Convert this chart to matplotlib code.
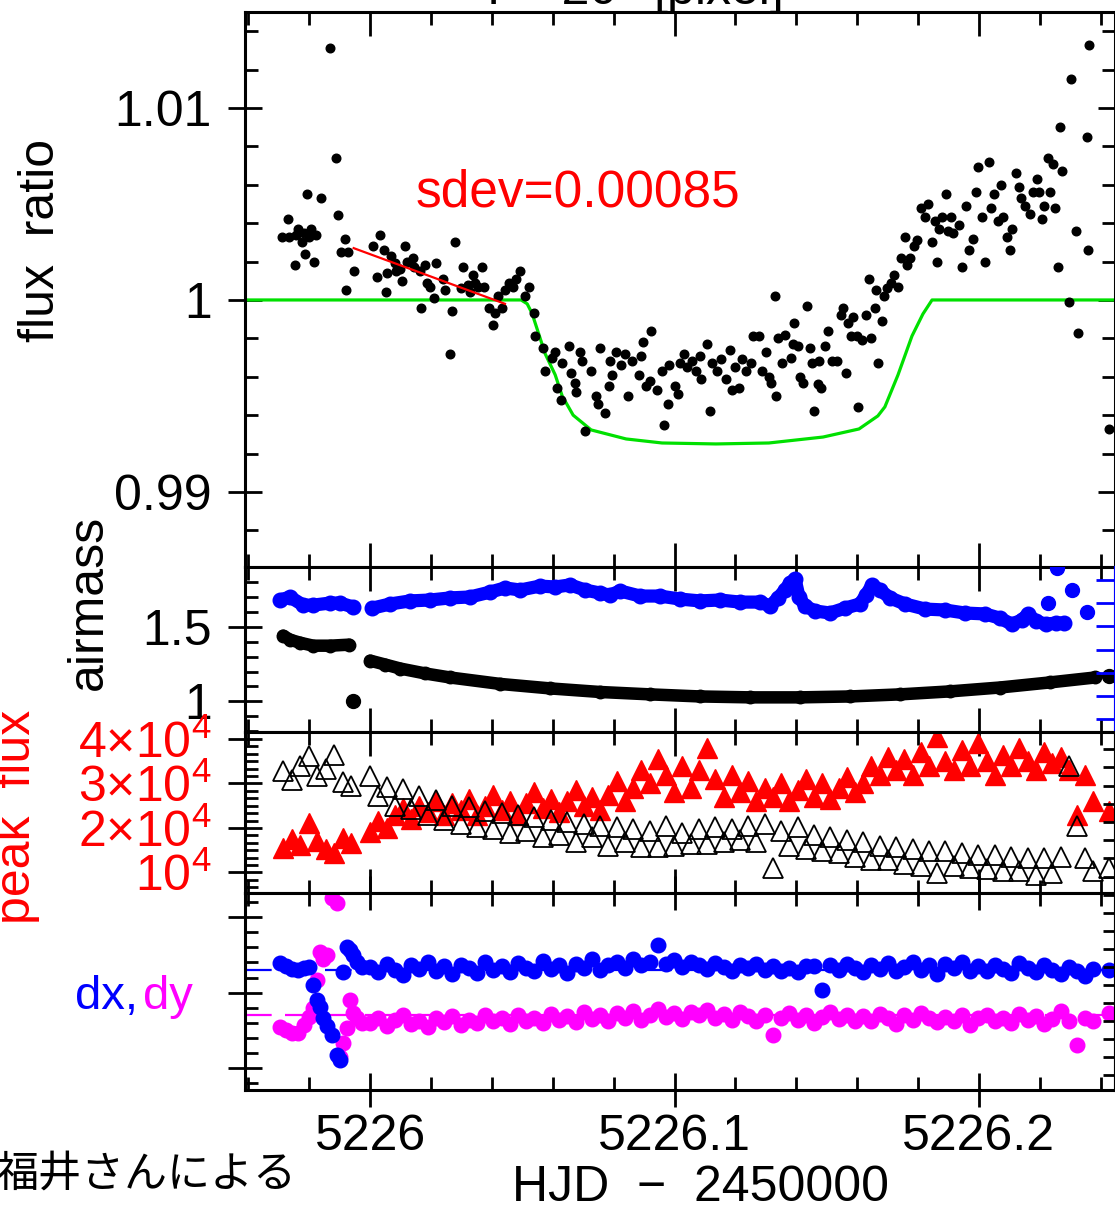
import matplotlib
matplotlib.use('Agg')
import matplotlib.pyplot as plt
from matplotlib.ticker import MultipleLocator, AutoMinorLocator, FuncFormatter, NullFormatter

plt.rcParams['font.family'] = ['Liberation Sans', 'DejaVu Sans']
plt.rcParams['mathtext.fontset'] = 'custom'
plt.rcParams['mathtext.rm'] = 'Liberation Sans'
plt.rcParams['mathtext.it'] = 'Liberation Sans:italic'
plt.rcParams['mathtext.bf'] = 'Liberation Sans:bold'

# ---------------- data ----------------
t_flux = [5225.9711, 5225.9729, 5225.9734, 5225.9754, 5225.9756, 5225.9764, 5225.9777, 5225.9783, 5225.9787, 5225.9793,
          5225.9800, 5225.9806, 5225.9816, 5225.9823, 5225.9839, 5225.9869, 5225.9888, 5225.9893, 5225.9905, 5225.9918,
          5225.9921, 5225.9928, 5225.9947, 5226.0010, 5226.0023, 5226.0033, 5226.0046, 5226.0053, 5226.0057, 5226.0069,
          5226.0082, 5226.0085, 5226.0099, 5226.0105, 5226.0115, 5226.0122, 5226.0140, 5226.0144, 5226.0164, 5226.0167,
          5226.0181, 5226.0187, 5226.0197, 5226.0210, 5226.0217, 5226.0240, 5226.0246, 5226.0263, 5226.0269, 5226.0279,
          5226.0299, 5226.0304, 5226.0322, 5226.0328, 5226.0338, 5226.0345, 5226.0356, 5226.0368, 5226.0374, 5226.0391,
          5226.0404, 5226.0411, 5226.0420, 5226.0433, 5226.0443, 5226.0456, 5226.0468, 5226.0479, 5226.0493, 5226.0509,
          5226.0521, 5226.0539, 5226.0541, 5226.0568, 5226.0575, 5226.0598, 5226.0608, 5226.0614, 5226.0628, 5226.0631,
          5226.0654, 5226.0660, 5226.0673, 5226.0677, 5226.0690, 5226.0696, 5226.0706, 5226.0726, 5226.0742, 5226.0749,
          5226.0755, 5226.0772, 5226.0785, 5226.0788, 5226.0795, 5226.0808, 5226.0824, 5226.0837, 5226.0847, 5226.0860,
          5226.0883, 5226.0890, 5226.0895, 5226.0906, 5226.0920, 5226.0923, 5226.0943, 5226.0959, 5226.0966, 5226.0977,
          5226.0982, 5226.1002, 5226.1011, 5226.1018, 5226.1031, 5226.1041, 5226.1059, 5226.1071, 5226.1084, 5226.1087,
          5226.1107, 5226.1117, 5226.1123, 5226.1140, 5226.1153, 5226.1169, 5226.1182, 5226.1189, 5226.1199, 5226.1212,
          5226.1223, 5226.1235, 5226.1251, 5226.1258, 5226.1278, 5226.1287, 5226.1300, 5226.1310, 5226.1317, 5226.1330,
          5226.1333, 5226.1340, 5226.1353, 5226.1363, 5226.1383, 5226.1388, 5226.1392, 5226.1406, 5226.1412, 5226.1422,
          5226.1435, 5226.1445, 5226.1452, 5226.1458, 5226.1470, 5226.1475, 5226.1481, 5226.1494, 5226.1504, 5226.1517,
          5226.1534, 5226.1547, 5226.1552, 5226.1563, 5226.1570, 5226.1580, 5226.1586, 5226.1599, 5226.1604, 5226.1616,
          5226.1629, 5226.1639, 5226.1645, 5226.1657, 5226.1662, 5226.1668, 5226.1681, 5226.1687, 5226.1698, 5226.1711,
          5226.1721, 5226.1734, 5226.1744, 5226.1757, 5226.1764, 5226.1773, 5226.1787, 5226.1798, 5226.1810, 5226.1823,
          5226.1833, 5226.1846, 5226.1856, 5226.1862, 5226.1869, 5226.1880, 5226.1892, 5226.1898, 5226.1908, 5226.1915,
          5226.1933, 5226.1944, 5226.1957, 5226.1967, 5226.1980, 5226.1990, 5226.1997, 5226.2010, 5226.2020, 5226.2033,
          5226.2039, 5226.2049, 5226.2062, 5226.2072, 5226.2079, 5226.2092, 5226.2102, 5226.2108, 5226.2122, 5226.2131,
          5226.2138, 5226.2151, 5226.2167, 5226.2177, 5226.2190, 5226.2197, 5226.2207, 5226.2213, 5226.2227, 5226.2233,
          5226.2243, 5226.2250, 5226.2261, 5226.2266, 5226.2273, 5226.2296, 5226.2302, 5226.2319, 5226.2325, 5226.2355,
          5226.2357, 5226.2361, 5226.2427]
flux = [1.0033, 1.0042, 1.0033, 1.0018, 1.0034, 1.0037, 1.0030, 1.0035, 1.0024, 1.0055,
        1.0033, 1.0037, 1.0020, 1.0034, 1.0053, 1.0131, 1.0074, 1.0044, 1.0025, 1.0032,
        1.0005, 1.0025, 1.0015, 1.0028, 1.0012, 1.0034, 1.0026, 1.0004, 1.0014, 1.0023,
        1.0019, 1.0015, 1.0016, 1.0010, 1.0028, 1.0020, 1.0022, 1.0017, 1.0015, 0.9996,
        1.0018, 1.0009, 1.0007, 1.0001, 1.0019, 1.0011, 1.0005, 0.9972, 0.9994, 1.0030,
        1.0006, 1.0017, 1.0008, 1.0004, 1.0013, 1.0009, 1.0007, 1.0017, 1.0007, 0.9996,
        0.9987, 0.9993, 1.0002, 0.9996, 1.0005, 1.0009, 1.0007, 1.0011, 1.0015, 1.0002,
        1.0007, 0.9993, 0.9981, 0.9975, 0.9963, 0.9970, 0.9973, 0.9954, 0.9948, 0.9967,
        0.9976, 0.9962, 0.9957, 0.9952, 0.9973, 0.9968, 0.9932, 0.9963, 0.9950, 0.9946,
        0.9975, 0.9941, 0.9955, 0.9968, 0.9961, 0.9973, 0.9966, 0.9972, 0.9950, 0.9968,
        0.9961, 0.9971, 0.9978, 0.9955, 0.9958, 0.9984, 0.9953, 0.9963, 0.9935, 0.9946,
        0.9966, 0.9955, 0.9951, 0.9967, 0.9972, 0.9965, 0.9968, 0.9963, 0.9971, 0.9959,
        0.9977, 0.9942, 0.9967, 0.9963, 0.9969, 0.9959, 0.9974, 0.9953, 0.9965, 0.9954,
        0.9969, 0.9963, 0.9967, 0.9981, 0.9981, 0.9963, 0.9973, 0.9960, 0.9957, 1.0002,
        0.9950, 0.9980, 0.9967, 0.9982, 0.9970, 0.9977, 0.9988, 0.9976, 0.9960, 0.9957,
        0.9997, 0.9975, 0.9967, 0.9942, 0.9956, 0.9968, 0.9954, 0.9976, 0.9984, 0.9968,
        0.9968, 0.9992, 0.9996, 0.9962, 0.9988, 0.9981, 0.9991, 0.9981, 0.9944, 0.9979,
        0.9992, 1.0011, 0.9980, 0.9996, 1.0005, 0.9967, 0.9989, 1.0002, 1.0006, 1.0009,
        1.0013, 1.0007, 1.0022, 1.0033, 1.0018, 1.0022, 1.0028, 1.0031, 1.0048, 1.0043,
        1.0050, 1.0030, 1.0041, 1.0020, 1.0037, 1.0043, 1.0055, 1.0036, 1.0043, 1.0035,
        1.0039, 1.0017, 1.0049, 1.0026, 1.0032, 1.0056, 1.0069, 1.0043, 1.0020, 1.0072,
        1.0048, 1.0055, 1.0041, 1.0060, 1.0043, 1.0033, 1.0026, 1.0037, 1.0066, 1.0059,
        1.0053, 1.0049, 1.0045, 1.0056, 1.0063, 1.0056, 1.0042, 1.0049, 1.0074, 1.0056,
        1.0071, 1.0048, 1.0017, 1.0090, 1.0067, 0.9999, 1.0115, 1.0036, 0.9983, 1.0085,
        1.0026, 1.0133, 0.9933]

t_model = [5225.9550, 5226.0496, 5226.0516, 5226.0532, 5226.0575, 5226.0608, 5226.0631, 5226.0667, 5226.0726,
           5226.0841, 5226.0959, 5226.1136, 5226.1310, 5226.1488, 5226.1606, 5226.1668, 5226.1691, 5226.1734,
           5226.1780, 5226.1816, 5226.1846, 5226.2500]
f_model = [1.0000, 1.0000, 0.9998, 0.9993, 0.9972, 0.9961, 0.9950, 0.9940, 0.99323,
           0.99276, 0.99255, 0.99250, 0.99255, 0.99286, 0.99328, 0.99396, 0.99443, 0.99609,
           0.99812, 0.99927, 1.0000, 1.0000]

t_fit = [5225.9946, 5226.0443]
f_fit = [1.0027, 0.9998]
sdev_text = 'sdev=0.00085'

t_airmass_1 = [5225.9714, 5225.9737, 5225.9770, 5225.9813, 5225.9869, 5225.9931]
airmass_1 = [1.440, 1.413, 1.393, 1.373, 1.373, 1.380]
t_airmass_2 = [5226.0000, 5226.0049, 5226.0099, 5226.0181, 5226.0263, 5226.0427, 5226.0591, 5226.0755, 5226.0920,
               5226.1084, 5226.1248, 5226.1412, 5226.1576, 5226.1741, 5226.1905, 5226.2069, 5226.2233, 5226.2381]
airmass_2 = [1.273, 1.247, 1.220, 1.187, 1.160, 1.117, 1.087, 1.063, 1.047,
             1.033, 1.027, 1.027, 1.033, 1.047, 1.067, 1.093, 1.127, 1.160]
t_airmass_odd = [5225.9944, 5226.2427]
airmass_odd = [1.002, 1.167]

t_fwhm_1 = [5225.9704, 5225.9737, 5225.9780, 5225.9813, 5225.9869, 5225.9901, 5225.9944]
fwhm_1 = [5.13, 5.26, 4.91, 4.91, 5.00, 5.00, 4.83]
t_fwhm_2 = [5226.0007, 5226.0066, 5226.0131, 5226.0197, 5226.0263, 5226.0328, 5226.0394, 5226.0443, 5226.0493,
            5226.0558, 5226.0608, 5226.0657, 5226.0706, 5226.0755, 5226.0788, 5226.0821, 5226.0887, 5226.0952,
            5226.1018, 5226.1084, 5226.1149, 5226.1215, 5226.1281, 5226.1314, 5226.1340, 5226.1363, 5226.1379,
            5226.1396, 5226.1409, 5226.1429, 5226.1461, 5226.1511, 5226.1560, 5226.1609, 5226.1629, 5226.1649,
            5226.1675, 5226.1708, 5226.1757, 5226.1823, 5226.1888, 5226.1954, 5226.2020, 5226.2069, 5226.2108,
            5226.2141, 5226.2161, 5226.2187, 5226.2220, 5226.2253, 5226.2279]
fwhm_2 = [4.78, 4.96, 5.09, 5.13, 5.22, 5.26, 5.47, 5.65, 5.56,
          5.73, 5.69, 5.78, 5.56, 5.43, 5.34, 5.52, 5.30, 5.30,
          5.17, 5.09, 5.13, 5.04, 5.04, 4.87, 5.22, 5.56, 5.86,
          6.03, 5.26, 4.87, 4.66, 4.57, 4.78, 4.96, 5.34, 5.78,
          5.56, 5.22, 4.96, 4.74, 4.70, 4.57, 4.53, 4.35, 4.09,
          4.27, 4.53, 4.22, 4.09, 4.14, 4.14]
t_fwhm_odd = [5226.2227, 5226.2256, 5226.2305, 5226.2355]
fwhm_odd = [5.00, 6.51, 5.56, 4.61]

t_obs_a = [5225.9714, 5225.9742, 5225.9770, 5225.9798, 5225.9826, 5225.9854, 5225.9882, 5225.9910, 5225.9938]
t_obs_b = [5226.0000, 5226.0027, 5226.0054, 5226.0081, 5226.0108, 5226.0135, 5226.0162, 5226.0189, 5226.0216, 5226.0243,
           5226.0270, 5226.0297, 5226.0324, 5226.0351, 5226.0378, 5226.0405, 5226.0432, 5226.0459, 5226.0486, 5226.0513,
           5226.0540, 5226.0567, 5226.0594, 5226.0621, 5226.0648, 5226.0675, 5226.0702, 5226.0729, 5226.0756, 5226.0783,
           5226.0810, 5226.0837, 5226.0864, 5226.0891, 5226.0918, 5226.0945, 5226.0972, 5226.0999, 5226.1026, 5226.1053,
           5226.1080, 5226.1107, 5226.1134, 5226.1161, 5226.1188, 5226.1215, 5226.1242, 5226.1269, 5226.1296, 5226.1323,
           5226.1350, 5226.1377, 5226.1404, 5226.1431, 5226.1458, 5226.1485, 5226.1512, 5226.1539, 5226.1566, 5226.1593,
           5226.1620, 5226.1647, 5226.1674, 5226.1701, 5226.1728, 5226.1755, 5226.1782, 5226.1809, 5226.1836, 5226.1863,
           5226.1890, 5226.1917, 5226.1944, 5226.1971, 5226.1998, 5226.2025, 5226.2052, 5226.2079, 5226.2106, 5226.2133,
           5226.2160, 5226.2187, 5226.2214, 5226.2241, 5226.2268, 5226.2295, 5226.2322, 5226.2349, 5226.2376, 5226.2427]

# peak flux of target (red, units of 1e4 counts)
peak_red_a = [1.55, 1.75, 1.62, 2.12, 1.70, 1.52, 1.44, 1.78, 1.65]
peak_red_b = [1.90, 2.15, 2.00, 2.30, 2.45, 2.20, 2.50, 2.35, 2.60, 2.30,
              2.55, 2.40, 2.65, 2.30, 2.50, 2.75, 2.40, 2.60, 2.30, 2.55,
              2.80, 2.45, 2.65, 2.35, 2.60, 2.85, 2.50, 2.70, 2.40, 2.75,
              3.05, 2.60, 2.90, 3.30, 3.00, 3.55, 3.20, 2.80, 3.40, 2.90,
              3.30, 3.80, 3.10, 2.70, 3.20, 2.80, 3.05, 2.60, 2.90, 2.70,
              3.00, 2.60, 2.85, 3.10, 2.70, 3.00, 2.65, 2.90, 3.15, 2.80,
              3.00, 3.40, 3.20, 3.60, 3.30, 3.55, 3.20, 3.70, 3.40, 4.05,
              3.50, 3.30, 3.75, 3.40, 3.90, 3.50, 3.20, 3.65, 3.40, 3.80,
              3.50, 3.30, 3.70, 3.45, 3.60, 3.30, 2.30, 3.20, 2.60, 2.38]
# second quantity (black open triangles, right-hand scale)
peak_black_a = [5.8, 5.3, 6.1, 6.6, 5.5, 5.9, 6.7, 5.2, 5.0]
peak_black_b = [5.5, 4.4, 4.9, 3.9, 4.8, 3.7, 4.4, 3.4, 4.2, 3.1,
                3.9, 2.9, 3.8, 2.7, 3.6, 2.6, 3.5, 2.4, 3.4, 2.5,
                3.3, 2.2, 3.1, 2.3, 3.0, 1.9, 2.9, 2.2, 2.8, 1.7,
                2.7, 1.9, 2.6, 1.6, 2.5, 1.6, 2.8, 1.7, 2.4, 1.8,
                2.6, 1.8, 2.7, 1.9, 2.6, 2.0, 2.8, 1.9, 2.9, 0.5,
                2.5, 1.7, 2.7, 1.5, 2.3, 1.4, 2.2, 1.3, 2.0, 1.1,
                1.9, 0.9, 1.7, 0.9, 1.6, 0.7, 1.5, 0.6, 1.4, 0.2,
                1.4, 0.6, 1.3, 0.5, 1.2, 0.4, 1.2, 0.3, 1.1, 0.3,
                1.0, 0.1, 1.0, 0.2, 1.1, 6.1, 2.8, 1.0, 0.3, 0.5]

t_pos_early = [5225.9704, 5225.9724, 5225.9744, 5225.9764, 5225.9783, 5225.9800, 5225.9813, 5225.9826, 5225.9836,
               5225.9846, 5225.9859, 5225.9875, 5225.9892, 5225.9901, 5225.9911, 5225.9924, 5225.9934, 5225.9944,
               5225.9957, 5225.9974]
dx_early = [0.39, 0.35, 0.31, 0.30, 0.33, 0.34, 0.10, -0.10, -0.19, -0.34,
            -0.44, -0.56, -0.83, -0.89, 0.27, 0.61, 0.57, 0.50, 0.41, 0.34]
dy_early = [-0.45, -0.49, -0.53, -0.53, -0.43, -0.32, -0.20, 0.17, 0.54, 0.45,
            0.50, 1.26, 1.19, -0.85, -0.67, -0.47, -0.10, -0.27, -0.33, -0.40]
dx_b = [0.34, 0.27, 0.38, 0.30, 0.24, 0.36, 0.31, 0.41, 0.28, 0.35,
        0.25, 0.37, 0.32, 0.26, 0.40, 0.30, 0.35, 0.27, 0.39, 0.33,
        0.28, 0.42, 0.31, 0.36, 0.26, 0.38, 0.33, 0.44, 0.30, 0.37,
        0.40, 0.33, 0.45, 0.36, 0.41, 0.63, 0.38, 0.43, 0.34, 0.40,
        0.36, 0.31, 0.39, 0.34, 0.28, 0.37, 0.32, 0.38, 0.30, 0.35,
        0.29, 0.33, 0.27, 0.35, 0.35, 0.04, 0.37, 0.30, 0.38, 0.33,
        0.27, 0.36, 0.31, 0.39, 0.28, 0.34, 0.41, 0.30, 0.36, 0.25,
        0.38, 0.32, 0.40, 0.29, 0.35, 0.28, 0.37, 0.31, 0.26, 0.39,
        0.33, 0.27, 0.36, 0.30, 0.25, 0.34, 0.28, 0.22, 0.31, 0.30]
dy_b = [-0.40, -0.33, -0.44, -0.36, -0.30, -0.42, -0.37, -0.46, -0.34, -0.39,
        -0.31, -0.43, -0.36, -0.40, -0.30, -0.38, -0.33, -0.42, -0.29, -0.37,
        -0.34, -0.40, -0.28, -0.36, -0.31, -0.39, -0.26, -0.35, -0.30, -0.38,
        -0.27, -0.33, -0.24, -0.36, -0.29, -0.22, -0.32, -0.27, -0.35, -0.25,
        -0.30, -0.23, -0.33, -0.28, -0.36, -0.26, -0.31, -0.38, -0.29, -0.56,
        -0.33, -0.27, -0.36, -0.30, -0.40, -0.32, -0.26, -0.35, -0.29, -0.37,
        -0.31, -0.38, -0.28, -0.34, -0.41, -0.30, -0.36, -0.27, -0.33, -0.39,
        -0.32, -0.37, -0.29, -0.43, -0.34, -0.30, -0.38, -0.33, -0.40, -0.28,
        -0.36, -0.31, -0.42, -0.35, -0.24, -0.38, -0.69, -0.33, -0.37, -0.27]
dx_mean = 0.30
dy_mean = -0.30

x_ticklabels_fmt = '%g'

# ---------------- layout ----------------
W, H = 1115, 1209
fig = plt.figure(figsize=(W / 100, H / 100), dpi=100)
fig.patch.set_facecolor('white')


def box(l, t, r, b):
    return [l / W, 1 - b / H, (r - l) / W, (b - t) / H]


def fx(px):
    return px / W


def fy(py):
    return 1 - py / H


XL = (5225.9589, 5226.2447)
ax1 = fig.add_axes(box(245, 12, 1115, 567))
ax2 = fig.add_axes(box(245, 567, 1115, 732))
ax3 = fig.add_axes(box(245, 732, 1115, 893))
ax4 = fig.add_axes(box(245, 893, 1115, 1090))
ax2r = ax2.twinx()
ax3r = ax3.twinx()
ax4r = ax4.twinx()

LS = 36
for ax in (ax1, ax2, ax3, ax4):
    ax.set_xlim(*XL)
    ax.xaxis.set_major_locator(MultipleLocator(0.1))
    ax.xaxis.set_minor_locator(MultipleLocator(0.02))
    for s in ax.spines.values():
        s.set_linewidth(2.2)
    ax.tick_params(axis='x', which='major', direction='in', length=17, width=2,
                   top=True, bottom=True, labelbottom=False)
    ax.tick_params(axis='x', which='minor', direction='in', length=9.5, width=2,
                   top=True, bottom=True)
    ax.tick_params(axis='y', which='major', direction='inout', length=24, width=2,
                   left=True, labelsize=LS, pad=12)
    ax.tick_params(axis='y', which='minor', direction='in', length=9.5, width=2, left=True)

for axr, col, ln in ((ax2r, 'blue', 13.5), (ax3r, 'black', 8.6), (ax4r, 'black', 8.6)):
    axr.yaxis.set_major_locator(MultipleLocator(1))
    axr.tick_params(axis='y', which='major', direction='in', length=ln, width=2,
                    color=col, right=True, labelright=False)
    axr.tick_params(axis='y', which='minor', right=False)
    for k in ('left', 'top', 'bottom'):
        axr.spines[k].set_visible(False)
    axr.spines['right'].set_color(col)
    axr.spines['right'].set_linewidth(1.5)

gfmt = FuncFormatter(lambda v, p: '%g' % round(v, 6))

# ---- panel 1: flux ratio
ax1.set_ylim(0.98609, 1.0150)
ax1.yaxis.set_major_locator(MultipleLocator(0.01))
ax1.yaxis.set_minor_locator(MultipleLocator(0.002))
ax1.yaxis.set_major_formatter(gfmt)
ax1.tick_params(axis='y', which='both', right=True)
ax1.plot(t_model, f_model, color='#00e000', lw=2.3, zorder=2)
ax1.plot(t_flux, flux, linestyle='none', marker='o', ms=6.2, color='black', zorder=3)
ax1.plot(t_fit, f_fit, color='red', lw=1.6, zorder=4)

# ---- panel 2: airmass + fwhm
ax2.set_ylim(0.795, 1.90)
ax2.yaxis.set_major_locator(MultipleLocator(0.5))
ax2.yaxis.set_minor_locator(MultipleLocator(0.1))
ax2.yaxis.set_major_formatter(gfmt)
for tt, aa in ((t_airmass_1, airmass_1), (t_airmass_2, airmass_2)):
    ax2.plot(tt, aa, color='black', lw=9.0, marker='o', ms=9.0,
             solid_capstyle='round', solid_joinstyle='round')
ax2.plot(t_airmass_odd, airmass_odd, linestyle='none', marker='o', ms=10, color='black')
ax2r.set_ylim(-0.55, 6.55)
for tt, ff in ((t_fwhm_1, fwhm_1), (t_fwhm_2, fwhm_2)):
    ax2r.plot(tt, ff, color='blue', lw=9.5, marker='o', ms=10.5,
              solid_capstyle='round', solid_joinstyle='round')
ax2r.plot(t_fwhm_odd, fwhm_odd, linestyle='none', marker='o', ms=10, color='blue')

# ---- panel 3: peak flux
ax3.set_ylim(0.536, 4.158)
ax3.yaxis.set_major_locator(MultipleLocator(1))
ax3.yaxis.set_minor_locator(AutoMinorLocator(6))


def peak_fmt(v, p):
    n = int(round(v))
    if n == 1:
        return r'10$^{4}$'
    return '%d×10$^{4}$' % n


ax3.yaxis.set_major_formatter(FuncFormatter(peak_fmt))
ax3.tick_params(axis='y', labelcolor='red')
ax3.plot(t_obs_a + t_obs_b, peak_red_a + peak_red_b, linestyle='none', marker='^', ms=15,
         color='red', mec='red')
ax3r.set_ylim(-0.9, 7.94)
ax3r.plot(t_obs_a + t_obs_b, peak_black_a + peak_black_b, linestyle='none', marker='^', ms=15,
          mfc='none', mec='black', mew=1.3)

# ---- panel 4: dx, dy
ax4.set_ylim(-1.29, 1.32)
ax4.yaxis.set_major_locator(MultipleLocator(1))
ax4.yaxis.set_minor_locator(MultipleLocator(0.2))
ax4.yaxis.set_major_formatter(NullFormatter())
ax4.axhline(dx_mean, color='blue', lw=1.6, linestyle=(0, (12, 6)), zorder=1)
ax4.axhline(dy_mean, color='magenta', lw=1.6, linestyle=(0, (12, 6)), zorder=1)
ax4.plot(t_pos_early + t_obs_b, dy_early + dy_b, linestyle='none', marker='o', ms=10.5,
         color='magenta', zorder=2)
ax4.plot(t_pos_early + t_obs_b, dx_early + dx_b, linestyle='none', marker='o', ms=10.5,
         color='blue', zorder=3)
ax4r.set_ylim(-0.83, 10.1)
ax4.tick_params(axis='x', which='major', direction='inout', length=24, labelbottom=True,
                labelsize=LS, pad=5)
ax4.xaxis.set_major_formatter(FuncFormatter(lambda v, p: x_ticklabels_fmt % round(v, 4)))

# ---------------- texts ----------------
fig.text(fx(416), fy(206), sdev_text, color='red', fontsize=37, ha='left', va='baseline')
fig.text(fx(54), fy(240), 'flux  ratio', rotation=90, rotation_mode='anchor',
         ha='center', va='baseline', fontsize=36)
fig.text(fx(102), fy(602), 'airmass', rotation=90, rotation_mode='anchor',
         ha='center', va='baseline', fontsize=36)
fig.text(fx(30), fy(817), 'peak  flux', rotation=90, rotation_mode='anchor',
         ha='center', va='baseline', fontsize=36, color='red')
fig.text(fx(75), fy(1009), 'dx,', color='blue', fontsize=34, ha='left', va='baseline')
fig.text(fx(143), fy(1009), 'dy', color='magenta', fontsize=34, ha='left', va='baseline')
fig.text(fx(700), fy(1201), 'HJD  −  2450000', fontsize=36, ha='center', va='baseline')
fig.text(fx(617), fy(4), 'r = 20', fontsize=36, ha='right', va='baseline')
fig.text(fx(653), fy(4), '[pixel]', fontsize=36, ha='left', va='baseline')
fig.text(fx(296), fy(1175), '福井さんによる', fontsize=31, ha='right', va='center',
         family=['Noto Sans CJK JP', 'DejaVu Sans'])

fig.savefig('out.png', dpi=100)
